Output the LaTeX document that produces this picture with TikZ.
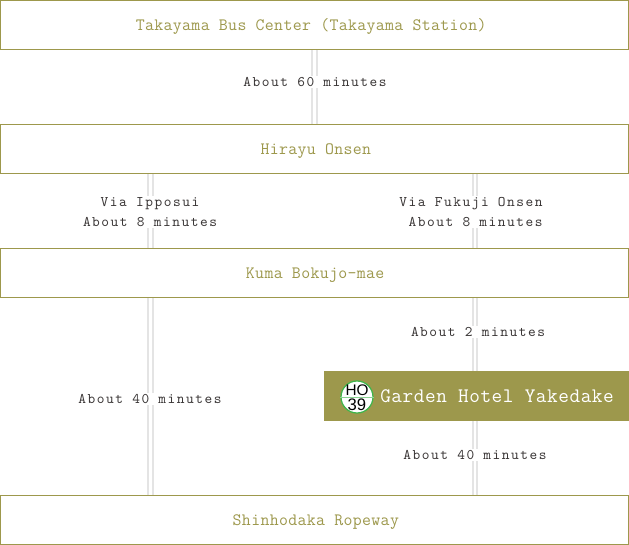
\documentclass[tikz,border=0pt]{standalone}
\usepackage{fontspec}
\setsansfont{Liberation Sans}
\newfontfamily\labelfont[LetterSpace=10.5]{Latin Modern Mono}
\newfontfamily\titlefont[LetterSpace=2]{Latin Modern Mono}
\newfontfamily\hotelfont[LetterSpace=2.7]{Latin Modern Mono}
\definecolor{olive}{HTML}{9D984C}
\definecolor{railgrey}{HTML}{E4E4E4}
\definecolor{inkgrey}{HTML}{3A3636}
\definecolor{hogreen}{HTML}{3DB54A}
\tikzset{
  x=0.75pt,y=-0.75pt,
  stopbox/.style={draw=olive,line width=0.75pt,fill=white,minimum width=627.5*0.75pt,minimum height=49*0.75pt,inner sep=0pt,text=olive,text height=10pt,text depth=1pt,font=\titlefont\fontsize{13pt}{15pt}\selectfont},
  hotelbox/.style={fill=olive,minimum width=305*0.75pt,minimum height=50*0.75pt,inner sep=0pt},
  rail/.style={draw=railgrey,line width=2.2*0.75pt,double=white,double distance=2.4*0.75pt},
  timelabel/.style={fill=white,inner sep=0.8pt,text=inkgrey,align=center,font=\labelfont\fontsize{11pt}{15pt}\selectfont},
}
\begin{document}
\begin{tikzpicture}
\useasboundingbox (0,0) rectangle (629,545);
\node[stopbox] (bus) at (314.5,25) {Takayama Bus Center (Takayama Station)\hspace*{5pt}};
\node[stopbox] (hirayu) at (314.5,149) {\hspace*{2pt}Hirayu Onsen};
\node[stopbox] (kuma) at (314.5,273) {\hspace*{1pt}Kuma Bokujo-mae};
\node[stopbox] (rope) at (314.5,520) {\hspace*{2pt}Shinhodaka Ropeway};
\node[hotelbox] (hotel) at (476.5,396) {};
\coordinate (lx) at (150.5,0);
\coordinate (rx) at (475,0);
\draw[rail] (bus.south) -- (hirayu.north);
\draw[rail] (hirayu.south -| lx) -- (kuma.north -| lx);
\draw[rail] (hirayu.south -| rx) -- (kuma.north -| rx);
\draw[rail] (kuma.south -| lx) -- (rope.north -| lx);
\draw[rail] (kuma.south -| rx) -- (hotel.north -| rx);
\draw[rail] (hotel.south -| rx) -- (rope.north -| rx);
\node[timelabel] (t1) at (315,82) {About 60 minutes};
\node[timelabel] (t2) at (150,212) {Via Ipposui\\About 8 minutes};
\node[timelabel] (t3) at (471,212) {Via Fukuji Onsen\\\ About 8 minutes};
\node[timelabel] (t4) at (478,332) {About 2 minutes};
\node[timelabel] (t5) at (150,399) {About 40 minutes};
\node[timelabel] (t6) at (475,455) {About 40 minutes};
\node[anchor=west,inner sep=0pt,text=white,font=\hotelfont\fontsize{15.5pt}{15pt}\selectfont] (name) at (380,396) {Garden Hotel Yakedake};
\node[circle,draw=hogreen,fill=white,line width=0.9pt,minimum size=32*0.75pt,inner sep=0pt] (badge) at (357,397) {};
\draw[hogreen!60,line width=0.5pt] (badge.west) -- (badge.east);
\node[inner sep=0pt,font=\sffamily\fontsize{11.5pt}{11pt}\selectfont] (ho) at (357,390) {HO};
\node[inner sep=0pt,font=\sffamily\fontsize{12.5pt}{11pt}\selectfont] (num) at (357,405) {39};
\end{tikzpicture}
\end{document}
